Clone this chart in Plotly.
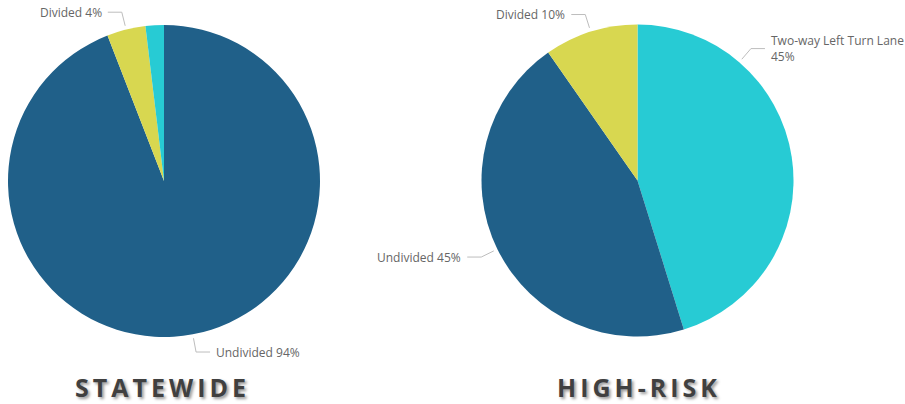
import math
import plotly.graph_objects as go

# ---------------- data ----------------
statewide_categories = ["Undivided", "Divided", "Two-way Left Turn Lane"]
statewide_values = [94.1, 4.0, 1.9]
highrisk_categories = ["Two-way Left Turn Lane", "Undivided", "Divided"]
highrisk_values = [45.2, 45.1, 9.7]
titles = ["STATEWIDE", "HIGH-RISK"]

# ---------------- style ----------------
W, H = 905, 404
colors = {"Undivided": "#206089", "Divided": "#D8D750", "Two-way Left Turn Lane": "#27CBD4"}
LABEL_FONT = dict(family="Segoe UI, Open Sans, sans-serif", size=12, color="#666666")
LEADER_COLOR = "#BDBDBD"
RADIUS = 156
pies = [
    dict(cats=statewide_categories, vals=statewide_values, center=(164, 181),
         shown={"Undivided": None, "Divided": None}, title=titles[0], title_x=162),
    dict(cats=highrisk_categories, vals=highrisk_values, center=(637.5, 180.5),
         shown={"Two-way Left Turn Lane": 40.7, "Undivided": None, "Divided": None},
         title=titles[1], title_x=639),
]


def px(x, y):
    return x / W, 1 - y / H


fig = go.Figure()
shapes, annotations = [], []
for p in pies:
    cx, cy = p["center"]
    x0, y0 = px(cx - RADIUS, cy + RADIUS)
    x1, y1 = px(cx + RADIUS, cy - RADIUS)
    fig.add_trace(go.Pie(
        labels=p["cats"], values=p["vals"], sort=False, direction="clockwise", rotation=0,
        marker=dict(colors=[colors[c] for c in p["cats"]], line=dict(width=0)),
        textinfo="none", hoverinfo="label+percent", showlegend=False,
        domain=dict(x=[x0, x1], y=[y0, y1]),
    ))
    total = sum(p["vals"])
    cum = 0
    for cat, v in zip(p["cats"], p["vals"]):
        start = cum
        cum += v
        if cat not in p["shown"]:
            continue
        mid = (start + v / 2) / total * 360
        ang = p["shown"][cat] if p["shown"][cat] is not None else mid
        a = math.radians(ang)
        sx, sy = math.sin(a), -math.cos(a)
        ax, ay = cx + (RADIUS + 4) * sx, cy + (RADIUS + 4) * sy
        bx, by = cx + (RADIUS + 18) * sx, cy + (RADIUS + 18) * sy
        side = 1 if sx >= 0 else -1
        ex, ey = bx + 14 * side, by
        pts = [px(ax, ay), px(bx, by), px(ex, ey)]
        path = "M {} {} L {} {} L {} {}".format(*[c for pt in pts for c in pt])
        shapes.append(dict(type="path", path=path, xref="paper", yref="paper",
                           line=dict(color=LEADER_COLOR, width=1)))
        pct = round(v / total * 100)
        name = "Two-way Left Turn Lane<br>" if cat == "Two-way Left Turn Lane" else cat + " "
        tx, ty = px(ex + 4 * side, ey)
        annotations.append(dict(text=f"{name}{pct}%", x=tx, y=ty, xref="paper", yref="paper",
                                xanchor="left" if side > 0 else "right", yanchor="middle",
                                align="left", showarrow=False, font=LABEL_FONT))
    tx, ty = px(p["title_x"], 387)
    annotations.append(dict(text=p["title"], x=tx, y=ty, xref="paper", yref="paper",
                            xanchor="center", yanchor="middle", showarrow=False,
                            font=dict(family="Open Sans, sans-serif", size=25, weight="bold",
                                      color="#404040",
                                      shadow="2px 2px 3px rgba(0,0,0,0.4)")))

fig.update_layout(width=W, height=H, margin=dict(l=0, r=0, t=0, b=0),
                  paper_bgcolor="white", plot_bgcolor="white",
                  shapes=shapes, annotations=annotations)

post = """
document.body.style.margin='0';
var T = %s;
document.querySelectorAll('text.annotation-text').forEach(function(t){
  if (T.indexOf(t.textContent) >= 0) { t.style.letterSpacing = '4px'; }
});
""" % (str(titles).replace("'", '"'))
fig.write_html("out.html", post_script=post, config={"displayModeBar": False})
